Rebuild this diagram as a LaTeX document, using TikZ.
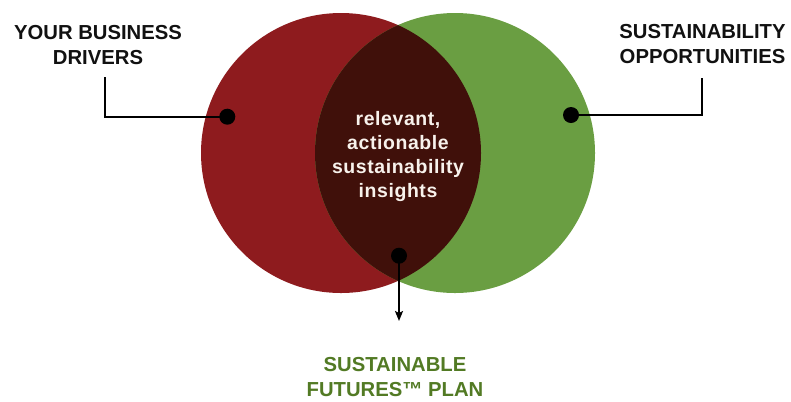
\documentclass[tikz,border=0pt]{standalone}
\usepackage{fontspec}
\setmainfont{Liberation Sans}
\newfontfamily\insightfont[LetterSpace=3]{Liberation Sans}
\usetikzlibrary{arrows.meta}
\definecolor{drvred}{RGB}{142,27,30}
\definecolor{oppgreen}{RGB}{106,158,66}
\definecolor{lensbrown}{RGB}{64,16,10}
\definecolor{plangreen}{RGB}{82,122,36}
\tikzset{every picture/.style={line width=0.75pt}}
\tikzset{
  dotmark/.style={circle, fill=black, inner sep=0pt, minimum size=12pt},
  callout/.style={line width=1.5pt, line join=miter},
  capslabel/.style={align=center, anchor=base, font=\bfseries\fontsize{15.2}{18.75}\selectfont},
}

\begin{document}
\begin{tikzpicture}[x=0.75pt,y=0.75pt,yscale=-1,xscale=1]
\useasboundingbox (0,0) rectangle (791,401);

%Shape: Circles
\coordinate (drv) at (341,153);
\coordinate (opp) at (455,153);
\fill[drvred] (drv) circle (105pt);
\fill[oppgreen] (opp) circle (105pt);
\begin{scope}
  \clip (drv) circle (105pt);
  \fill[lensbrown] (opp) circle (105pt);
\end{scope}

% Text Node (anchored at the baseline of the last line)
\node (insights) at (398,197) [anchor=base, align=center, text={rgb,255:red,248;green,242;blue,236}, font=\insightfont\bfseries\fontsize{14.6}{17.8}\selectfont] {relevant,\\actionable\\sustainability\\insights};
% Text Node
\node (drvlabel) at (98,64) [capslabel, text={rgb,255:red,17;green,17;blue,17}] {YOUR BUSINESS\\DRIVERS};
% Text Node
\node (opplabel) at (702.5,63) [capslabel, text={rgb,255:red,17;green,17;blue,17}] {SUSTAINABILITY\\OPPORTUNITIES};
% Text Node
\node (planlabel) at (395,396.7) [capslabel, text=plangreen] {SUSTAINABLE\\FUTURES™ PLAN};

%Dots
\node (drvdot) at (227.3,116.7) [dotmark] {};
\node (oppdot) at (571,115) [dotmark] {};
\node (plandot) at (399,255.7) [dotmark] {};

%Lines
\coordinate (drvend) at (105,76.7);
\coordinate (oppend) at (701.7,77.7);
\coordinate (planend) at (399,321);
\draw[callout] (drvdot.center) -| (drvend);
\draw[callout] (oppdot.center) -| (oppend);
\draw[callout, -{Stealth[length=7.5pt,width=6pt,inset=1.5pt]}] (plandot.center) -- (planend);
\end{tikzpicture}
\end{document}
